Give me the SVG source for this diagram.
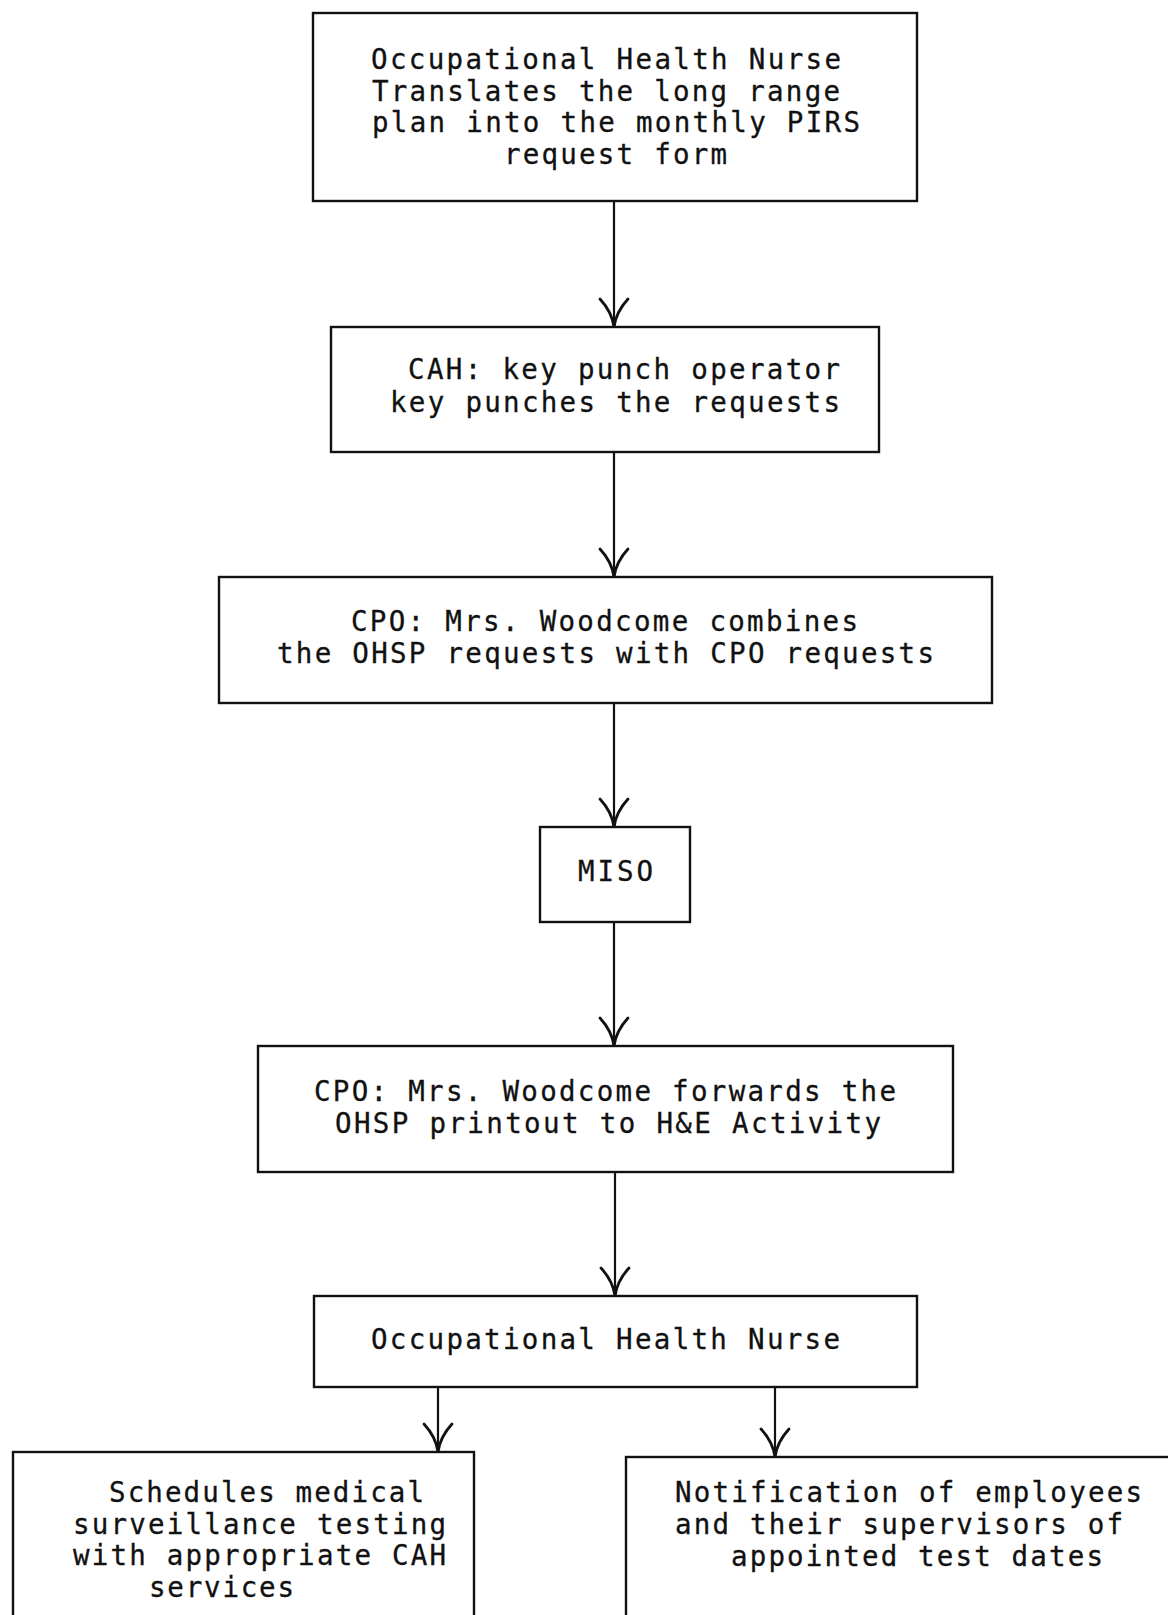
<svg xmlns="http://www.w3.org/2000/svg" width="1168" height="1615" viewBox="0 0 1168 1615">
<style>
.box{fill:#fff;stroke:#111;stroke-width:2.4}
.t{font-family:"DejaVu Sans Mono","Liberation Mono",monospace;font-size:27.5px;fill:#111;stroke:#111;stroke-width:0.3}
.ln{fill:none;stroke:#111;stroke-width:2.2}
.ah{fill:none;stroke:#111;stroke-width:2.8;stroke-linecap:round}
</style>
<rect width="1168" height="1615" fill="#fff"/>
<g id="connectors">
<path class="ln" d="M614 201V327"/><path class="ah" d="M600 299Q612 312 614 327Q616 312 628 299"/>
<path class="ln" d="M614 452V577"/><path class="ah" d="M600 549Q612 562 614 577Q616 562 628 549"/>
<path class="ln" d="M614 703V827"/><path class="ah" d="M600 799Q612 812 614 827Q616 812 628 799"/>
<path class="ln" d="M614 922V1046"/><path class="ah" d="M600 1018Q612 1031 614 1046Q616 1031 628 1018"/>
<path class="ln" d="M615 1172V1296"/><path class="ah" d="M601 1268Q613 1281 615 1296Q617 1281 629 1268"/>
<path class="ln" d="M438 1387V1452"/><path class="ah" d="M424 1424Q436 1437 438 1452Q440 1437 452 1424"/>
<path class="ln" d="M775 1387V1457"/><path class="ah" d="M761 1429Q773 1442 775 1457Q777 1442 789 1429"/>
</g>
<g id="n1">
<rect class="box" x="313" y="13" width="604" height="188"/>
<text class="t" x="371" y="69" textLength="470" lengthAdjust="spacing">Occupational Health Nurse</text>
<text class="t" x="372" y="101" textLength="468" lengthAdjust="spacing">Translates the long range</text>
<text class="t" x="372" y="132" textLength="488" lengthAdjust="spacing">plan into the monthly PIRS</text>
<text class="t" x="504" y="164" textLength="223" lengthAdjust="spacing">request form</text>
</g>
<g id="n2">
<rect class="box" x="331" y="327" width="548" height="125"/>
<text class="t" x="408" y="379" textLength="432" lengthAdjust="spacing">CAH: key punch operator</text>
<text class="t" x="390" y="412" textLength="450" lengthAdjust="spacing">key punches the requests</text>
</g>
<g id="n3">
<rect class="box" x="219" y="577" width="773" height="126"/>
<text class="t" x="351" y="631" textLength="507" lengthAdjust="spacing">CPO: Mrs. Woodcome combines</text>
<text class="t" x="277" y="663" textLength="657" lengthAdjust="spacing">the OHSP requests with CPO requests</text>
</g>
<g id="n4">
<rect class="box" x="540" y="827" width="150" height="95"/>
<text class="t" x="578" y="881" textLength="75" lengthAdjust="spacing">MISO</text>
</g>
<g id="n5">
<rect class="box" x="258" y="1046" width="695" height="126"/>
<text class="t" x="314" y="1101" textLength="582" lengthAdjust="spacing">CPO: Mrs. Woodcome forwards the</text>
<text class="t" x="335" y="1133" textLength="546" lengthAdjust="spacing">OHSP printout to H&amp;E Activity</text>
</g>
<g id="n6">
<rect class="box" x="314" y="1296" width="603" height="91"/>
<text class="t" x="371" y="1349" textLength="469" lengthAdjust="spacing">Occupational Health Nurse</text>
</g>
<g id="n7">
<rect class="box" x="13" y="1452" width="461" height="200"/>
<text class="t" x="109" y="1502" textLength="315" lengthAdjust="spacing">Schedules medical</text>
<text class="t" x="73" y="1534" textLength="373" lengthAdjust="spacing">surveillance testing</text>
<text class="t" x="73" y="1565" textLength="373" lengthAdjust="spacing">with appropriate CAH</text>
<text class="t" x="149" y="1597" textLength="145" lengthAdjust="spacing">services</text>
</g>
<g id="n8">
<rect class="box" x="626" y="1457" width="560" height="200"/>
<text class="t" x="675" y="1502" textLength="467" lengthAdjust="spacing">Notification of employees</text>
<text class="t" x="675" y="1534" textLength="448" lengthAdjust="spacing">and their supervisors of</text>
<text class="t" x="731" y="1566" textLength="372" lengthAdjust="spacing">appointed test dates</text>
</g>
</svg>
